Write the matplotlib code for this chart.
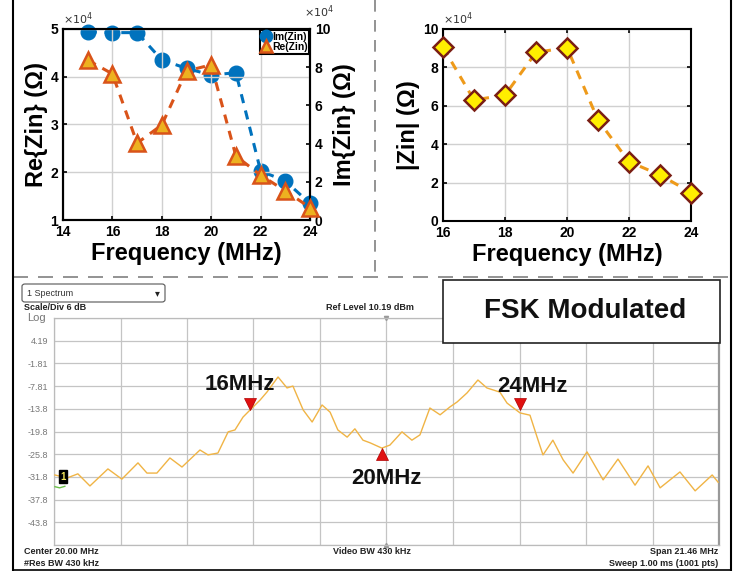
import matplotlib
matplotlib.use("Agg")
import matplotlib.pyplot as plt
from matplotlib.lines import Line2D
from matplotlib.patches import Rectangle, FancyBboxPatch
from matplotlib.ticker import FuncFormatter

plt.rcParams['font.family'] = ['Liberation Sans', 'DejaVu Sans']

# ---------------- data ----------------
freq_a = [15, 16, 17, 18, 19, 20, 21, 22, 23, 24]
re_zin = [43500, 40600, 26100, 29900, 41200, 42500, 23400, 19400, 16100, 12600]
im_zin = [98600, 98100, 98100, 83800, 79400, 75900, 77100, 25700, 20400, 8700]

freq_b = [16, 17, 18, 19, 20, 21, 22, 23, 24]
abs_zin = [90500, 63000, 65600, 87800, 90300, 52600, 30900, 24000, 14800]

spec_f = [9.30, 9.69, 10.04, 10.43, 11.01, 11.46, 11.98, 12.27, 12.59, 13.01,
          13.40, 13.98, 14.24, 14.56, 14.89, 15.11, 15.37, 15.60, 15.92, 16.14,
          16.50, 16.79, 16.98, 17.31, 17.60, 17.92, 18.18, 18.43, 18.73, 18.98,
          19.24, 19.47, 19.85, 20.11, 20.50, 20.82, 21.08, 21.40, 21.73, 22.05,
          22.28, 22.60, 22.95, 23.24, 23.66, 23.89, 24.31, 24.63, 24.86, 25.05,
          25.37, 25.70, 26.02, 26.47, 26.99, 27.47, 28.02, 28.44, 28.83, 29.47,
          29.96, 30.51, 30.70]
spec_db = [-31.3, -32.1, -31.0, -34.2, -29.7, -32.4, -28.1, -30.8, -30.8, -26.8,
           -29.2, -24.7, -26.0, -25.5, -19.9, -19.4, -16.0, -14.1, -11.5, -9.4,
           -5.4, -8.3, -7.8, -14.1, -17.3, -12.8, -14.7, -19.4, -21.3, -19.1,
           -22.1, -22.8, -24.2, -23.4, -19.9, -22.1, -20.7, -13.6, -15.4, -13.3,
           -12.0, -9.6, -6.2, -8.3, -9.4, -12.3, -14.9, -15.5, -21.3, -26.0,
           -22.1, -27.3, -30.8, -25.2, -32.6, -27.1, -34.0, -28.9, -34.7, -30.5,
           -35.5, -31.3, -33.2]
green_f = [9.30, 9.45, 9.62]
green_db = [-34.4, -34.7, -34.3]

marker_labels = ['16MHz', '20MHz', '24MHz']
marker_f = [15.60, 19.85, 24.31]
marker_db = [-14.1, -24.2, -14.1]

ref_level = 10.19
db_per_div = 6
center_mhz = 20.00
span_mhz = 21.46
ytick_labels = ['', '4.19', '-1.81', '-7.81', '-13.8', '-19.8', '-25.8',
                '-31.8', '-37.8', '-43.8', '']

# ---------------- figure ----------------
W, H = 744, 571
fig = plt.figure(figsize=(W / 100, H / 100), dpi=100)


def fx(x):
    return x / W


def fy(y):
    return 1 - y / H


def axrect(l, t, r, b):
    return [fx(l), fy(b), (r - l) / W, (b - t) / H]


BLUE = '#0072BD'
ORANGE = '#D95319'
YEL = '#EDB120'
e4 = FuncFormatter(lambda v, p: f'{v / 1e4:g}')


def style(a):
    a.tick_params(direction='in', labelsize=10, width=1.2, length=3)
    for s in a.spines.values():
        s.set_linewidth(1.5)
    for lab in a.get_xticklabels() + a.get_yticklabels():
        lab.set_fontweight('bold')


# ---- top-left ----
ax1 = fig.add_axes(axrect(63, 29, 310, 220))
ax2 = ax1.twinx()
ax1.plot(freq_a, re_zin, '--', color=ORANGE, lw=2.2, dashes=(3, 2.5), zorder=2)
ax2.plot(freq_a, im_zin, '--', color=BLUE, lw=2.2, dashes=(3, 2.5), zorder=2)
ax2.plot(freq_a, im_zin, 'o', color=BLUE, ms=10.5, zorder=3, label='Im(Zin)',
         clip_on=False)
ax1.plot(freq_a, re_zin, '^', mfc=YEL, mec=ORANGE, mew=1.8, ms=11, zorder=4,
         label='Re(Zin)', clip_on=False)
ax1.set_zorder(ax2.get_zorder() + 1)
ax1.patch.set_visible(False)
ax1.set_xlim(14, 24)
ax1.set_ylim(1e4, 5e4)
ax2.set_ylim(0, 1e5)
ax1.set_xticks(range(14, 25, 2))
ax1.set_yticks([1e4, 2e4, 3e4, 4e4, 5e4])
ax2.set_yticks([0, 2e4, 4e4, 6e4, 8e4, 1e5])
ax1.yaxis.set_major_formatter(e4)
ax2.yaxis.set_major_formatter(e4)
style(ax1)
style(ax2)
ax1.grid(True, color='#D0D0D0', lw=1)
ax1.set_xlabel('Frequency (MHz)', fontsize=17, fontweight='bold', labelpad=2)
ax1.set_ylabel('Re{Zin} (Ω)', fontsize=17, fontweight='bold', labelpad=2)
ax2.set_ylabel('Im{Zin} (Ω)', fontsize=17, fontweight='bold', labelpad=2)
ax1.text(0.0, 1.01, r'$\times10^4$', transform=ax1.transAxes, fontsize=8,
         ha='left', va='bottom', color='#333333')
ax1.text(0.975, 1.045, r'$\times10^4$', transform=ax1.transAxes, fontsize=8,
         ha='left', va='bottom', color='#333333')
h1, l1 = ax2.get_legend_handles_labels()
h2, l2 = ax1.get_legend_handles_labels()
leg = ax1.legend(h1 + h2, l1 + l2, loc='upper right', bbox_to_anchor=(1, 1),
                 prop={'size': 7.5, 'weight': 'bold'}, frameon=True,
                 fancybox=False, edgecolor='black',
                 framealpha=1, borderpad=0.15, handletextpad=0.1,
                 handlelength=0.9, labelspacing=0.05, borderaxespad=0.1,
                 markerscale=0.85)
leg.get_frame().set_linewidth(1.5)

# ---- top-right ----
ax3 = fig.add_axes(axrect(443, 29, 691, 221))
ax3.plot(freq_b, abs_zin, '--', color='#EE9A1A', lw=2.2, dashes=(3, 2.5), zorder=2)
ax3.plot(freq_b, abs_zin, 'D', mfc='#FFEE00', mec='#7A1E14', mew=1.8, ms=10,
         zorder=3, clip_on=False)
ax3.set_xlim(16, 24)
ax3.set_ylim(0, 1e5)
ax3.set_xticks(range(16, 25, 2))
ax3.set_yticks([0, 2e4, 4e4, 6e4, 8e4, 1e5])
ax3.yaxis.set_major_formatter(e4)
style(ax3)
ax3.tick_params(right=True, top=True)
ax3.grid(True, color='#D0D0D0', lw=1)
ax3.set_xlabel('Frequency (MHz)', fontsize=17, fontweight='bold', labelpad=2)
ax3.set_ylabel('|Zin| (Ω)', fontsize=17, fontweight='bold', labelpad=2)
ax3.text(0.0, 1.01, r'$\times10^4$', transform=ax3.transAxes, fontsize=8,
         ha='left', va='bottom', color='#333333')

# ---- spectrum ----
f_lo = center_mhz - span_mhz / 2
f_hi = center_mhz + span_mhz / 2
y_hi = ref_level
y_lo = ref_level - 10 * db_per_div
ax4 = fig.add_axes(axrect(54, 318, 719, 545))
ax4.set_xlim(f_lo, f_hi)
ax4.set_ylim(y_lo, y_hi)
ax4.set_xticks([f_lo + k * span_mhz / 10 for k in range(11)])
ax4.set_yticks([y_hi - k * db_per_div for k in range(11)])
ax4.set_xticklabels([])
ax4.set_yticklabels(ytick_labels)
ax4.tick_params(length=0, labelsize=6.5, labelcolor='#777777', pad=4)
ax4.grid(True, color='#C4C4C4', lw=0.9)
for s in ax4.spines.values():
    s.set_color('#BBBBBB')
    s.set_linewidth(0.9)
ax4.spines['right'].set_color('#999999')
ax4.spines['right'].set_linewidth(1.6)
ax4.plot(spec_f, spec_db, color='#F0B445', lw=1.0, zorder=3)
ax4.plot(green_f, green_db, color='#6CC04A', lw=1.0, zorder=3)
ax4.plot([center_mhz], [y_hi], 'v', color='#999999', ms=3, clip_on=False)
ax4.plot([center_mhz], [y_lo], '^', color='#999999', ms=3, clip_on=False)
ax4.text(9.55, -31.8, '1', color='#F5E65A', fontsize=7, fontweight='bold',
         ha='center', va='center', zorder=5,
         bbox=dict(boxstyle='square,pad=0.15', fc='black', ec='black'))

offsets = {'16MHz': (-10, 19), '20MHz': (5, -24), '24MHz': (12, 17)}
for lab, f, d in zip(marker_labels, marker_f, marker_db):
    down = lab != '20MHz'
    mk = 'v' if down else '^'
    shift = 6 if down else -6
    ax4.plot([f], [d + shift * (60 / 227)], mk, color='#E01010', ms=9,
             mec='#B00000', mew=0.5, zorder=6)
    dx, dy = offsets[lab]
    ax4.annotate(lab, xy=(f, d + shift * (60 / 227)), xytext=(dx, dy),
                 textcoords='offset pixels', ha='center', va='center',
                 fontsize=16, fontweight='bold', color='#111111', zorder=7)

# spectrum header / footer text
fig.text(fx(27), fy(318), 'Log', fontsize=8, color='#777777', ha='left',
         va='center')
fig.text(fx(24), fy(307), 'Scale/Div 6 dB', fontsize=6.5, fontweight='bold',
         color='#222222', ha='left', va='center')
fig.text(fx(370), fy(308), 'Ref Level 10.19 dBm', fontsize=6.5,
         fontweight='bold', color='#222222', ha='center', va='center')
fig.text(fx(24), fy(552), 'Center 20.00 MHz', fontsize=6.5, fontweight='bold',
         color='#222222', ha='left', va='center')
fig.text(fx(24), fy(563), '#Res BW 430 kHz', fontsize=6.5, fontweight='bold',
         color='#222222', ha='left', va='center')
fig.text(fx(372), fy(552), 'Video BW 430 kHz', fontsize=6.5, fontweight='bold',
         color='#222222', ha='center', va='center')
fig.text(fx(718), fy(552), 'Span 21.46 MHz', fontsize=6.5, fontweight='bold',
         color='#222222', ha='right', va='center')
fig.text(fx(718), fy(563), 'Sweep 1.00 ms (1001 pts)', fontsize=6.5,
         fontweight='bold', color='#222222', ha='right', va='center')

# dropdown
fig.patches.append(FancyBboxPatch((fx(22), fy(302)), (165 - 22) / W, 18 / H,
                                  boxstyle='round,pad=0,rounding_size=0.004',
                                  transform=fig.transFigure, fc='white',
                                  ec='#555555', lw=0.8))
fig.text(fx(27), fy(293), '1 Spectrum', fontsize=6.5, color='#333333',
         ha='left', va='center')
fig.text(fx(157), fy(293), '▾', fontsize=7, color='#222222', ha='center',
         va='center')

# FSK Modulated box
fig.patches.append(Rectangle((fx(443), fy(343)), (720 - 443) / W, (343 - 280) / H,
                             transform=fig.transFigure, fc='white',
                             ec='#222222', lw=1.2, zorder=10))
fig.text(fx(585), fy(311), 'FSK Modulated', fontsize=20, fontweight='bold',
         color='#111111', ha='center', va='center', zorder=11)

# separators and border
fig.lines.append(Line2D([fx(375), fx(375)], [fy(0), fy(272)],
                        transform=fig.transFigure, color='#808080', lw=1.2,
                        dashes=(7, 5)))
fig.lines.append(Line2D([fx(13), fx(731)], [fy(277), fy(277)],
                        transform=fig.transFigure, color='#808080', lw=1.2,
                        dashes=(9, 6)))
for xx in (13, 731):
    fig.lines.append(Line2D([fx(xx), fx(xx)], [0, 1],
                            transform=fig.transFigure, color='black', lw=1.5))
fig.lines.append(Line2D([fx(13), fx(731)], [fy(570), fy(570)],
                        transform=fig.transFigure, color='black', lw=1.2))

fig.savefig('out.png', dpi=100)
